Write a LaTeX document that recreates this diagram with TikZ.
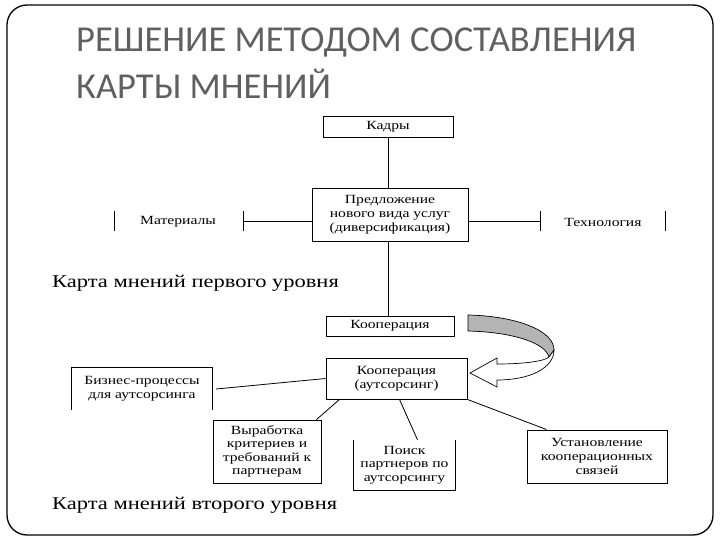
\documentclass[tikz,border=0pt]{standalone}
\usepackage{fontspec}
\setmainfont{Liberation Serif}
\newfontfamily\widefont[FakeStretch=1.25]{Liberation Serif}
\newfontfamily\titlefont{Carlito}
\usetikzlibrary{calc}
\definecolor{titlegray}{HTML}{606060}
\definecolor{bandgray}{HTML}{B4B4B4}
\begin{document}
\begin{tikzpicture}[x=1pt,y=-1pt,
  box/.style={draw,line width=0.9pt,align=center,inner sep=1pt,font=\widefont\fontsize{12.5}{14}\selectfont},
  obox/.style={align=center,inner sep=1pt,font=\widefont\fontsize{12.5}{14}\selectfont},
  lbl/.style={font=\widefont\fontsize{12.5}{14}\selectfont,inner sep=0pt},
  lvl/.style={font=\widefont\fontsize{18}{20}\selectfont,anchor=west,inner sep=0pt},
  conn/.style={line width=0.8pt}]
\useasboundingbox (0,0) rectangle (720,540);
% frame
\draw[line width=1.3pt,rounded corners=20pt] (7,5) rectangle (713,535);
% title
\node[anchor=west,inner sep=0pt,text=titlegray,font=\titlefont\fontsize{36.5}{40}\selectfont] (t1) at (76,43) {РЕШЕНИЕ МЕТОДОМ СОСТАВЛЕНИЯ};
\node[anchor=west,inner sep=0pt,text=titlegray,font=\titlefont\fontsize{36.5}{40}\selectfont] (t2) at (76,84) {КАРТЫ МНЕНИЙ};
% first level
\node[box,minimum width=130,minimum height=21] (kad) at (388,126.5) {Кадры};
\node[box,minimum width=156,minimum height=53] (pred) at (390,214.5) {Предложение\\нового вида услуг\\(диверсификация)};
\draw[conn] (kad.south) -- (kad.south |- pred.north);
\coordinate (lt1) at (243,221);
\coordinate (lt2) at (114,221);
\coordinate (rt1) at (540,221);
\coordinate (rt2) at (665,221);
\draw[conn] (pred.west |- lt1) -- (lt1);
\draw[conn] ($(lt1)+(0,-10)$) -- ($(lt1)+(0,10)$);
\draw[conn] ($(lt2)+(0,-10)$) -- ($(lt2)+(0,10)$);
\draw[conn] (pred.east |- rt1) -- (rt1);
\draw[conn] ($(rt1)+(0,-10)$) -- ($(rt1)+(0,10)$);
\draw[conn] ($(rt2)+(0,-10)$) -- ($(rt2)+(0,10)$);
\node[lbl] (mat) at (178,222) {Материалы};
\node[lbl] (tech) at (603,222) {Технология};
\node[box,minimum width=128,minimum height=20] (koop) at (390,326) {Кооперация};
\draw[conn] (kad.south |- pred.south) -- (kad.south |- koop.north);
\node[lvl] (lvl1) at (52,283) {Карта мнений первого уровня};
% curved arrow
\draw[line width=0.7pt,fill=bandgray] (468,315) .. controls (515,316) and (554,330) .. (554,350)
   -- (549,357) .. controls (545,342) and (510,332) .. (468,331) -- cycle;
\draw[line width=0.7pt,fill=white] (554,350) .. controls (554,368) and (530,380) .. (497,380)
   -- (497,387) -- (470,373) -- (497,358) -- (497,364)
   .. controls (525,364) and (545,361) .. (549,357) -- cycle;
% second level
\node[box,minimum width=141,minimum height=41] (koop2) at (396.5,378.5) {Кооперация\\(аутсорсинг)};
\node[obox,minimum width=140,minimum height=42] (biz) at (142,389) {Бизнес-процессы\\для аутсорсинга};
\draw[conn] (biz.south west) -- (biz.north west) -- (biz.north east) -- (biz.south east);
\node[box,minimum width=108,minimum height=63,font=\widefont\fontsize{12.5}{13.5}\selectfont] (vyr) at (267,451.5) {Выработка\\критериев и\\требований к\\партнерам};
\node[obox,minimum width=101,minimum height=50,font=\widefont\fontsize{12.5}{13.5}\selectfont] (poisk) at (404.5,465) {Поиск\\партнеров по\\аутсорсингу};
\draw[conn] (poisk.north west) -- (poisk.south west) -- (poisk.south east) -- (poisk.north east);
\node[box,minimum width=140,minimum height=53] (ust) at (597,456.5) {Установление\\кооперационных\\связей};
\draw[conn] ($(biz.east)+(4,0)$) -- (koop2.west);
\draw[conn] ($(koop2.south west)+(14,0)$) -- ($(vyr.north east)+(-5,0)$);
\draw[conn] ($(koop2.south)+(3,0)$) -- ($(poisk.north)+(13,0)$);
\draw[conn] (koop2.south east) -- ($(ust.north west)+(20,0)$);
\node[lvl] (lvl2) at (52,505) {Карта мнений второго уровня};
\end{tikzpicture}
\end{document}
